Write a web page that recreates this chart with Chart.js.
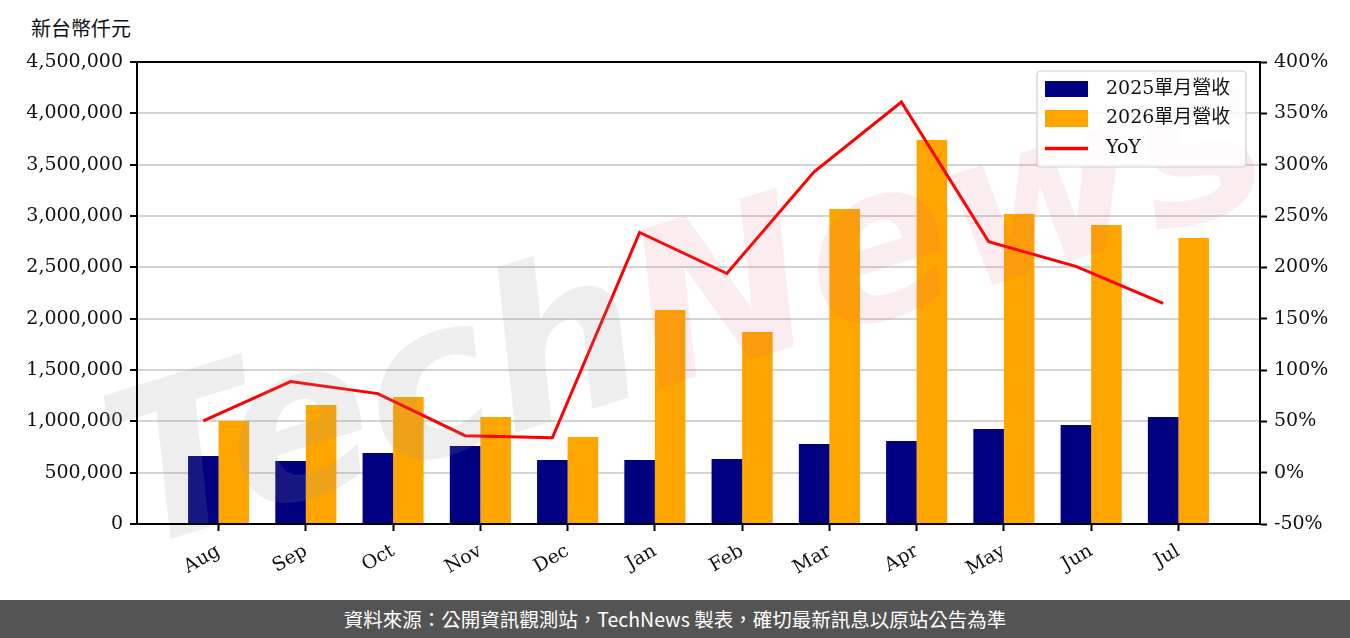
<!DOCTYPE html>
<html lang="zh-Hant">
<head>
  <meta charset="UTF-8">
  <title>單月營收</title>
  <script src="https://cdn.jsdelivr.net/npm/chart.js"></script>
  <style>
    body {
      margin: 0;
      background: #fff;
      width: 1350px;
      height: 638px;
      overflow: hidden;
      position: relative;
    }

    #unidad {
      position: absolute;
      left: 31px;
      top: 13px;
      font-family: 'Noto Sans CJK TC', sans-serif;
      font-size: 20px;
      color: #111;
    }

    #contenedor {
      position: absolute;
      left: 0;
      top: 0;
      width: 1350px;
      height: 600px;
    }

    #pie {
      position: absolute;
      left: 0;
      top: 600px;
      width: 1350px;
      height: 38px;
      background: #545454;
      color: #fff;
      font-family: 'Noto Sans CJK TC', sans-serif;
      font-size: 19.5px;
      line-height: 38px;
      text-align: center;
    }
  </style>
</head>
<body>

<div id="unidad">新台幣仟元</div>
<div id="contenedor">
  <canvas id="grafico" width="1350" height="600"></canvas>
</div>
<div id="pie">資料來源：公開資訊觀測站，TechNews 製表，確切最新訊息以原站公告為準</div>

<script>
  // datos
  var meses = ['Aug', 'Sep', 'Oct', 'Nov', 'Dec', 'Jan', 'Feb', 'Mar', 'Apr', 'May', 'Jun', 'Jul'];
  var ingresos2025 = [662000, 614000, 692000, 760000, 623000, 623000, 633000, 779000, 808000, 925000, 964000, 1042000];
  var ingresos2026 = [1003000, 1159000, 1237000, 1042000, 847000, 2084000, 1870000, 3068000, 3740000, 3019000, 2912000, 2786000];
  var yoy = [50.5, 88.7, 77, 36, 34, 234, 194, 293, 361, 225, 201, 165];

  var fuente = '"DejaVu Serif", "Noto Sans CJK TC", serif';
  var anchoBarra = 0.35;

  function puntos(valores, desplazamiento) {
    return valores.map(function (v, i) { return { x: i + desplazamiento, y: v }; });
  }

  // marco negro alrededor del área del gráfico
  var marco = {
    id: 'marco',
    afterDraw: function (chart) {
      var a = chart.chartArea, ctx = chart.ctx;
      ctx.save();
      ctx.strokeStyle = '#000';
      ctx.lineWidth = 2;
      ctx.strokeRect(a.left, a.top, a.right - a.left, a.bottom - a.top);
      ctx.restore();
    }
  };

  // marca de agua TechNews
  var marcaAgua = {
    id: 'marcaAgua',
    afterDatasetsDraw: function (chart) {
      var ctx = chart.ctx;
      ctx.save();
      ctx.translate(690, 320);
      ctx.rotate(-0.3);
      ctx.font = 'italic bold 215px "DejaVu Sans", sans-serif';
      ctx.textBaseline = 'middle';
      var t1 = 'Tech', t2 = 'News';
      var w1 = ctx.measureText(t1).width, w2 = ctx.measureText(t2).width;
      var x0 = -(w1 + w2) / 2;
      ctx.fillStyle = 'rgba(150, 150, 150, 0.16)';
      ctx.fillText(t1, x0, 0);
      ctx.fillStyle = 'rgba(220, 90, 110, 0.11)';
      ctx.fillText(t2, x0 + w1, 0);
      ctx.restore();
    }
  };

  // leyenda dentro del área, arriba a la derecha
  var leyenda = {
    id: 'leyenda',
    afterDraw: function (chart) {
      var ctx = chart.ctx;
      ctx.save();
      ctx.beginPath();
      ctx.roundRect(1037, 71, 209, 96, 4);
      ctx.fillStyle = 'rgba(255, 255, 255, 0.8)';
      ctx.fill();
      ctx.strokeStyle = '#d0d0d0';
      ctx.lineWidth = 1.2;
      ctx.stroke();

      ctx.fillStyle = '#000080';
      ctx.fillRect(1045, 81, 43, 16);
      ctx.fillStyle = '#FFA500';
      ctx.fillRect(1045, 110, 43, 17);
      ctx.strokeStyle = '#FF0000';
      ctx.lineWidth = 3.5;
      ctx.beginPath();
      ctx.moveTo(1045, 148.5);
      ctx.lineTo(1088, 148.5);
      ctx.stroke();

      ctx.fillStyle = '#111';
      ctx.font = '19px ' + fuente;
      ctx.textBaseline = 'middle';
      ctx.fillText('2025單月營收', 1106, 89);
      ctx.fillText('2026單月營收', 1106, 118);
      ctx.fillText('YoY', 1106, 148);
      ctx.restore();
    }
  };

  var ctx = document.getElementById('grafico').getContext('2d');

  var grafico = new Chart(ctx, {
    data: {
      datasets: [
        {
          type: 'line',
          label: 'YoY',
          data: puntos(yoy, -anchoBarra / 2),
          yAxisID: 'y2',
          borderColor: '#FF0000',
          borderWidth: 3,
          pointRadius: 0,
          tension: 0,
          order: 0
        },
        {
          type: 'bar',
          label: '2025單月營收',
          data: puntos(ingresos2025, 0),
          backgroundColor: '#000080',
          yAxisID: 'y',
          categoryPercentage: 0.7,
          barPercentage: 1.0,
          order: 1
        },
        {
          type: 'bar',
          label: '2026單月營收',
          data: puntos(ingresos2026, 0),
          backgroundColor: '#FFA500',
          yAxisID: 'y',
          categoryPercentage: 0.7,
          barPercentage: 1.0,
          order: 1
        }
      ]
    },
    options: {
      responsive: false,
      animation: false,
      devicePixelRatio: 1,
      layout: { padding: { top: 62, left: 0, right: 0, bottom: 0 } },
      plugins: {
        legend: { display: false },
        tooltip: { enabled: false }
      },
      scales: {
        x: {
          type: 'linear',
          offset: false,
          min: -0.935,
          max: 11.935,
          afterBuildTicks: function (scale) {
            scale.ticks = meses.map(function (m, i) { return { value: i }; });
          },
          afterFit: function (scale) { scale.height = 76; },
          ticks: {
            callback: function (v) { return meses[v]; },
            minRotation: 30,
            maxRotation: 30,
            padding: 9,
            color: '#111',
            font: { family: fuente, size: 19 }
          },
          grid: {
            offset: false,
            drawOnChartArea: false,
            tickColor: '#000',
            tickLength: 7,
            tickWidth: 2
          },
          border: { color: '#000', width: 2 }
        },
        y: {
          position: 'left',
          min: 0,
          max: 4500000,
          afterFit: function (scale) { scale.width = 137; },
          ticks: {
            stepSize: 500000,
            padding: 7,
            color: '#111',
            font: { family: fuente, size: 19 },
            callback: function (v) { return v.toLocaleString('en-US'); }
          },
          grid: {
            color: '#d4d4d4',
            lineWidth: 2,
            tickColor: '#000',
            tickLength: 7,
            tickWidth: 2
          },
          border: { color: '#000', width: 2 }
        },
        y2: {
          position: 'right',
          min: -50,
          max: 400,
          afterFit: function (scale) { scale.width = 90; },
          ticks: {
            stepSize: 50,
            padding: 7,
            color: '#111',
            font: { family: fuente, size: 19 },
            callback: function (v) { return v + '%'; }
          },
          grid: {
            drawOnChartArea: false,
            tickColor: '#000',
            tickLength: 7,
            tickWidth: 2
          },
          border: { color: '#000', width: 2 }
        }
      }
    },
    plugins: [marcaAgua, marco, leyenda]
  });
</script>

</body>
</html>
